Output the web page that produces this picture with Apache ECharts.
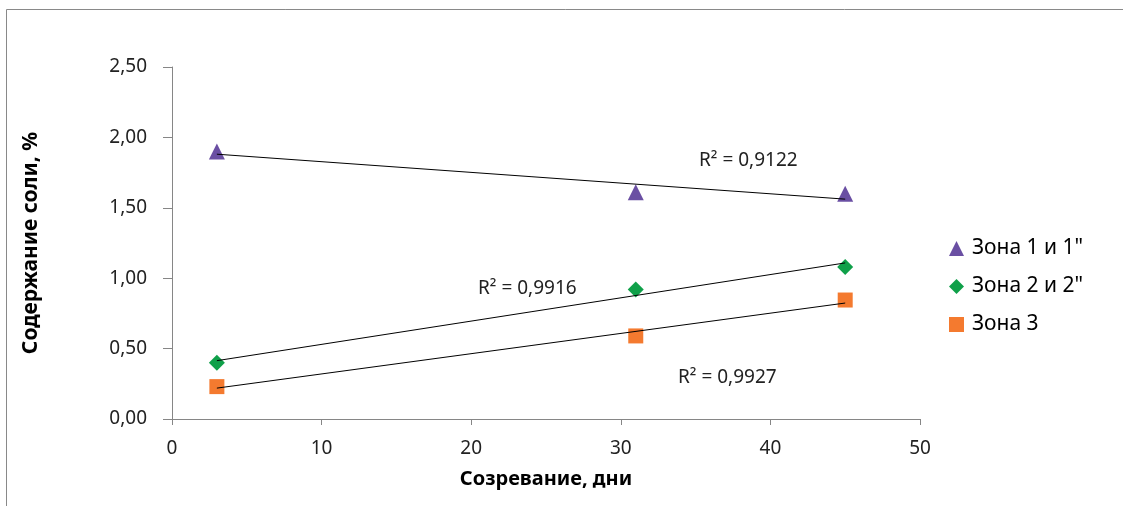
<!DOCTYPE html>
<html>
<head>
<meta charset="utf-8">
<script src="https://cdn.jsdelivr.net/npm/echarts@6/dist/echarts.min.js"></script>
<style>html,body{margin:0;padding:0;background:#fff;}#c{width:1123px;height:506px;}</style>
</head>
<body>
<div id="c"></div>
<script>
var days = [3, 31, 45];
var seriesNames = ['Зона 1 и 1"', 'Зона 2 и 2"', 'Зона 3'];
var zone1 = [1.90, 1.61, 1.60];
var zone2 = [0.40, 0.92, 1.08];
var zone3 = [0.23, 0.59, 0.845];
var r2Labels = ['R² = 0,9122', 'R² = 0,9916', 'R² = 0,9927'];
var xTicks = [0, 10, 20, 30, 40, 50];
var yTicks = [0, 0.5, 1, 1.5, 2, 2.5];

var FONT = 'Noto Sans';
function fit(xs, ys) {
  var n = xs.length, mx = 0, my = 0;
  for (var i = 0; i < n; i++) { mx += xs[i]; my += ys[i]; }
  mx /= n; my /= n;
  var sxy = 0, sxx = 0;
  for (var i = 0; i < n; i++) { sxy += (xs[i]-mx)*(ys[i]-my); sxx += (xs[i]-mx)*(xs[i]-mx); }
  var b = sxy / sxx, a = my - b*mx;
  var x0 = Math.min.apply(null, xs), x1 = Math.max.apply(null, xs);
  return [[x0, a + b*x0], [x1, a + b*x1]];
}
function pts(ys) { return days.map(function (d, i) { return [d, ys[i]]; }); }

var colors = ['#6a4fa3', '#0fa049', '#f47a2f'];
var symbols = ['triangle', 'diamond', 'rect'];
var sizes = [16, 16, 15];
var all = [zone1, zone2, zone3];

var series = [];
all.forEach(function (ys, k) {
  series.push({
    name: seriesNames[k], type: 'scatter', data: pts(ys),
    symbol: symbols[k], symbolSize: sizes[k],
    itemStyle: { color: colors[k], opacity: 1 }, z: 3
  });
});
all.forEach(function (ys, k) {
  series.push({
    name: 'trend' + k, type: 'line', data: fit(days, ys),
    symbol: 'none', lineStyle: { color: '#000', width: 1 }, z: 4, silent: true
  });
});

var chart = echarts.init(document.getElementById('c'));
chart.setOption({
  backgroundColor: '#fff',
  animation: false,
  grid: { left: 172, right: 203, top: 67, bottom: 87 },
  xAxis: {
    type: 'value', min: 0, max: 50, interval: 10,
    name: 'Созревание, дни', nameLocation: 'middle', nameGap: 50,
    nameTextStyle: { fontFamily: FONT, fontWeight: 'bold', fontSize: 20, color: '#000' },
    axisLine: { lineStyle: { color: '#868686' } },
    axisTick: { show: true, length: 6, lineStyle: { color: '#868686' } },
    axisLabel: { fontFamily: FONT, fontSize: 19, color: '#222', margin: 20 },
    splitLine: { show: false }
  },
  yAxis: {
    type: 'value', min: 0, max: 2.5, interval: 0.5,
    name: 'Содержание соли, %', nameLocation: 'middle', nameGap: 130,
    nameTextStyle: { fontFamily: FONT, fontWeight: 'bold', fontSize: 21, color: '#000' },
    axisLine: { show: true, lineStyle: { color: '#868686' } },
    axisTick: { show: true, length: 9, lineStyle: { color: '#868686' } },
    axisLabel: { fontFamily: FONT, fontSize: 19, color: '#222', margin: 25,
      formatter: function (v) { return v.toFixed(2).replace('.', ','); } },
    splitLine: { show: false }
  },
  legend: {
    orient: 'vertical', left: 944, top: 233, itemGap: 17,
    itemWidth: 15, itemHeight: 15, itemStyle: { opacity: 1 },
    data: seriesNames.map(function (n, k) { return { name: n, icon: symbols[k] }; }),
    textStyle: { fontFamily: FONT, fontSize: 21, color: '#000', padding: [0, 0, 0, 3] }
  },
  graphic: [
    { type: 'rect', shape: { x: 6.5, y: 9.5, width: 1200, height: 600 },
      style: { fill: null, stroke: '#898989', lineWidth: 1 }, silent: true, z: -1 },
    { type: 'text', left: 699, top: 151, style: { text: r2Labels[0], font: '19px "Noto Sans"', fill: '#222' } },
    { type: 'text', left: 478, top: 279, style: { text: r2Labels[1], font: '19px "Noto Sans"', fill: '#222' } },
    { type: 'text', left: 678, top: 368, style: { text: r2Labels[2], font: '19px "Noto Sans"', fill: '#222' } }
  ],
  series: series
});
</script>
</body>
</html>
